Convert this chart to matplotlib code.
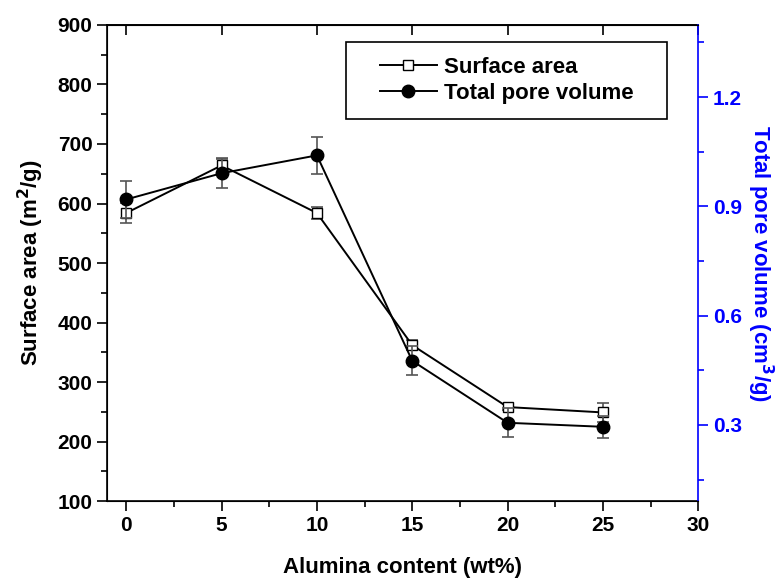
import matplotlib.pyplot as plt
from matplotlib.patches import Rectangle
from matplotlib.ticker import MultipleLocator

plt.rcParams['font.family'] = ['Liberation Sans', 'DejaVu Sans']
plt.rcParams['font.weight'] = 'bold'

# Data
alumina = [0, 5, 10, 15, 20, 25]
surface_area = [584, 664, 584, 362, 258, 249]
surface_err = [17, 12, 10, 8, 5, 16]
pore_volume = [0.919, 0.991, 1.040, 0.476, 0.306, 0.295]
pore_err = [0.05, 0.04, 0.05, 0.04, 0.04, 0.03]

fig = plt.figure(figsize=(7.82, 5.80), dpi=100)
ax = fig.add_axes([0.137, 0.136, 0.756, 0.821])
ax2 = ax.twinx()

# Surface area on the left axis
l1 = ax.errorbar(alumina, surface_area, yerr=surface_err, color='black',
                 ecolor='#555555', elinewidth=1.2, capsize=4, capthick=1.2,
                 marker='s', markersize=7, markerfacecolor='white',
                 markeredgecolor='black', linewidth=1.4)

# Total pore volume on the right axis
l2 = ax2.errorbar(alumina, pore_volume, yerr=pore_err, color='black',
                  ecolor='#555555', elinewidth=1.2, capsize=4, capthick=1.2,
                  marker='o', markersize=9, markerfacecolor='black',
                  linewidth=1.4)

ax.set_xlim(-1, 30)
ax.set_ylim(100, 900)
ax2.set_ylim(0.091, 1.398)

ax.xaxis.set_major_locator(MultipleLocator(5))
ax.xaxis.set_minor_locator(MultipleLocator(2.5))
ax.yaxis.set_major_locator(MultipleLocator(100))
ax.yaxis.set_minor_locator(MultipleLocator(50))
ax2.yaxis.set_major_locator(MultipleLocator(0.3))
ax2.yaxis.set_minor_locator(MultipleLocator(0.15))

ax.tick_params(axis='both', which='major', labelsize=15, length=7, width=1.2, direction='out')
ax.tick_params(axis='both', which='minor', length=4, width=1.2, direction='out')
ax2.tick_params(axis='y', which='major', labelsize=15, length=7, width=1.2,
                colors='blue', direction='out')
ax2.tick_params(axis='y', which='minor', length=4, width=1.2, colors='blue', direction='out')

# top ticks point inward
sec = ax.secondary_xaxis('top')
sec.set_xticks([0, 5, 10, 15, 20, 25, 30])
sec.tick_params(direction='in', length=7, width=1.2, labeltop=False)
sec.spines['top'].set_linewidth(1.2)

for s in ax.spines.values():
    s.set_linewidth(1.2)
ax2.spines['right'].set_color('blue')
ax2.spines['right'].set_linewidth(1.2)
ax.spines['right'].set_visible(False)

ax.set_xlabel('Alumina content (wt%)', fontsize=16, fontweight='bold', labelpad=16)
ax.set_ylabel('Surface area (m$^\\mathbf{2}$/g)', fontsize=16, fontweight='bold', labelpad=8)
ax2.set_ylabel('Total pore volume (cm$^\\mathbf{3}$/g)', fontsize=16, fontweight='bold',
               color='blue', rotation=270, labelpad=24)

leg = ax.legend([l1.lines[0], l2.lines[0]], ['Surface area', 'Total pore volume'],
                loc='upper right', bbox_to_anchor=(0.915, 0.964),
                prop={'size': 16, 'weight': 'bold'},
                frameon=False, handlelength=2.6, borderpad=0.65,
                labelspacing=0.25, handletextpad=0.3, borderaxespad=0)

# legend frame with wider side padding than top/bottom
fig.canvas.draw()
bb = leg.get_window_extent().transformed(fig.transFigure.inverted())
dx = 19 / 782
fig.add_artist(Rectangle((bb.x0 - dx, bb.y0), bb.width + 2 * dx, bb.height,
                         transform=fig.transFigure, fill=False,
                         edgecolor='black', linewidth=1.2))

fig.savefig('out.png', dpi=100)
